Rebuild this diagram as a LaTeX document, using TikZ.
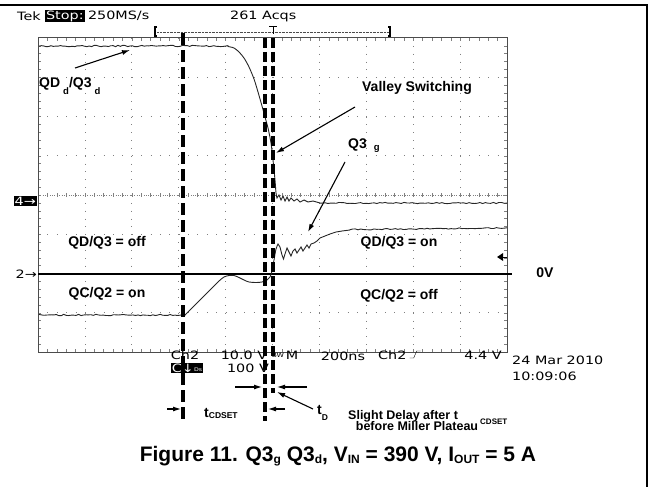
\documentclass[tikz,border=0pt]{standalone}
\usepackage{fontspec}
\setmainfont{Liberation Sans}
\newfontfamily\tekfont[FakeStretch=1.25]{DejaVu Sans}
\usetikzlibrary{arrows.meta,positioning}

\newcommand{\lowsub}[3]{\raisebox{#1}{\fontsize{#2}{#2}\selectfont #3}}

\begin{document}
\begin{tikzpicture}[x=1pt, y=-1pt, font=\bfseries\fontsize{14}{16}\selectfont,
    lbl/.style = {inner sep=0pt},
    small/.style = {inner sep=0pt, font=\bfseries\fontsize{12.5}{14}\selectfont},
    tek/.style = {inner sep=0pt, font=\tekfont\fontsize{11.5}{12}\selectfont},
    inv/.style = {tek, fill=black, text=white, inner sep=1pt},
    trace/.style = {line width=0.9pt, black!85},
    gridv/.style = {gray, line width=0.8pt, dash pattern=on 0.8pt off 7.05pt},
    gridh/.style = {gray, line width=0.8pt, dash pattern=on 0.8pt off 8.58pt},
    cursor/.style = {line width=4pt, dash pattern=on 12pt off 5pt},
    cursorn/.style = {line width=3.5pt, dash pattern=on 10pt off 4pt},
    arr/.style = {-{Latex[length=8pt,width=5pt]}, line width=1.1pt}]
    \useasboundingbox (0,0) rectangle (653,487);
    \pgfmathsetseed{7}
    % outer frame
    \draw[line width=1.5pt] (0,5) -- (647,5) -- (647,487);
    % graticule
    \foreach \i in {1,...,9} \draw[gridv] (38+\i*46.9,38) -- (38+\i*46.9,352);
    \foreach \j in {1,...,7} \draw[gridh] (38,38+\j*39.25) -- (507,38+\j*39.25);
    \draw[gray, line width=0.8pt, dash pattern=on 0.8pt off 1.55pt] (38,195) -- (507,195);
    \foreach \k in {1,...,49} {
        \draw[gray] (38+\k*9.38,38) -- ++(0,3);
        \draw[gray] (38+\k*9.38,352) -- ++(0,-3);
        \draw[gray] (38+\k*9.38,193) -- ++(0,4);
    }
    \foreach \k in {1,...,39} {
        \draw[gray] (38,38+\k*7.85) -- ++(3,0);
        \draw[gray] (507,38+\k*7.85) -- ++(-3,0);
    }
    \draw[gray!60!black, line width=1pt] (38,38) rectangle (507,352);
    % zero line and markers
    \draw[line width=1.5pt] (38,274) -- (512,274);
    \node[inv, anchor=east] (ch4) at (37,201) {4→};
    \node[tek, anchor=east] (ch2m) at (37,274) {2→};
    \fill (497,257) -- (503,253) -- (503,261) -- cycle;
    \draw (503,257) -- (507,257);
    % trigger bracket
    \draw[densely dotted, gray!60!black] (157,32) -- (390,32);
    \draw[line width=1.2pt] (157,27) -- (155,27) -- (155,36) -- (157,36);
    \draw[line width=1.2pt] (388,27) -- (390,27) -- (390,36) -- (388,36);
    \draw[line width=1pt] (269,27) -- (277,27) (273,27) -- (273,34);
    % drain trace
    \draw[trace] plot[domain=39:228, samples=80] (\x,{46+0.7*rand})
        -- plot[smooth] coordinates {(228,46.5) (234,48) (239,52) (244,58) (249,67) (254,79) (258,92) (262,106) (265,117) (268,128) (271,143) (273,160) (275,180) (276,193) (277,198)}
        -- (279,195) -- (281,200) -- (283,196) -- (285,201) -- (287,197) -- (289,201) -- (291,198) -- (294,201) -- (297,199) -- (300,202) -- (304,200) -- (308,202) -- (313,201) -- (320,203)
        -- plot[domain=320:507, samples=70] (\x,{203+0.6*rand});
    % gate trace
    \draw[trace] plot[domain=39:185, samples=60] (\x,{315+0.7*rand})
        -- plot[smooth] coordinates {(185,315) (189,311) (194,306) (199,301) (204,296) (209,291) (214,286) (219,281) (224,277) (229,275.5) (234,275.5) (239,277.5) (244,280) (249,282) (256,282.5) (262,282) (267,280) (270,277) (272,271) (274,260) (276,249) (278,244)}
        -- (280,247) -- (282,255) -- (283.5,259) -- (285,254) -- (287,248) -- (289,252) -- (291,256) -- (293,251) -- (295,249) -- (297,253) -- (299,250) -- (301,247) -- (303,251) -- (305,248) -- (307,245) -- (309,248) -- (311,244) -- (314,243) -- (317,241) -- (320,238) -- (325,236) -- (330,234) -- (336,232) -- (342,231) -- (350,230)
        -- plot[domain=350:507, samples=60] (\x,{229.5-1.5*(\x-350)/157+0.6*rand});
    % scope readouts
    \node[tek, anchor=west] (tek) at (17,16) {Tek};
    \node[inv, right=4pt of tek] (stop) {Stop:};
    \node[tek, right=3pt of stop] (rate) {250MS/s};
    \node[tek, anchor=west] (acqs) at (230,16) {261 Acqs};
    \node[tek] (ch2) at (185,355) {Ch2};
    \node[tek] (volt) at (244,355) {10.0 V};
    \node[tek, font=\tekfont\fontsize{6}{6}\selectfont] (bw) at (278,355) {BW};
    \node[tek] (mode) at (292,355) {M};
    \node[tek] (tdiv) at (343,356) {200ns};
    \node[tek, anchor=west] (trig) at (378,355) {Ch2};
    \draw (trig.east) ++(3,3) -- ++(4,0) -- ++(3,-7) -- ++(4,0);
    \node[tek] (level) at (483,355) {4.4 V};
    \node[inv] (c1) at (187,368) {C↓\lowsub{1pt}{5}{Ds}};
    \node[tek] (volt1) at (248,368) {100 V};
    \node[tek, anchor=west] (date) at (512,360) {24 Mar 2010};
    \node[tek, anchor=west] (time) at (512,376) {10:09:06};
    % labels
    \node[lbl, anchor=base west] (qdd) at (39,88) {QD\hspace{3pt}\lowsub{-7pt}{9.5}{d}/Q3\hspace{3pt}\lowsub{-7pt}{9.5}{d}};
    \node[lbl] (valley) at (417,88) {Valley Switching};
    \node[lbl, anchor=base west] (q3g) at (348,148) {Q3\hspace{7pt}\lowsub{-2pt}{9.5}{g}};
    \node[lbl] (offD) at (107,243) {QD/Q3 = off};
    \node[lbl] (onC) at (107,294) {QC/Q2 = on};
    \node[lbl] (onD) at (399,243) {QD/Q3 = on};
    \node[lbl] (offC) at (399,296) {QC/Q2 = off};
    \node[lbl] (zero) at (545,273) {0V};
    \node[lbl, anchor=base west] (tcd) at (204,417) {t\lowsub{-1pt}{8.5}{CDSET}};
    \node[lbl, anchor=base west] (td) at (317,414) {t\lowsub{-6pt}{8.5}{D}};
    \node[small, anchor=base west] (slight) at (348,419) {Slight Delay after t};
    \node[small, anchor=base west, font=\bfseries\fontsize{8}{8}\selectfont] (cdsub) at (480,424) {CDSET};
    \node[small] (miller) at (417,426) {before Miller Plateau};
    \node[lbl, font=\bfseries\fontsize{21}{24}\selectfont] (cap) at (338,456)
        {Figure 11. Q3\lowsub{-2pt}{12}{g} Q3\lowsub{-2pt}{12}{d}, V\lowsub{-2pt}{12}{IN} = 390 V, I\lowsub{-2pt}{12}{OUT} = 5 A};
    % cursors
    \draw[cursor] (183,33) -- (183,420);
    \draw[cursorn] (265,38) -- (265,421);
    \draw[cursorn] (273,38) -- (273,393);
    % arrows
    \coordinate (qdtail) at (75,68);
    \coordinate (qdtip) at (130,50);
    \coordinate (vstail) at (355,107);
    \coordinate (vstip) at (276,153);
    \coordinate (gtail) at (345,162);
    \coordinate (gtip) at (308,232);
    \coordinate (cdl) at (167,409);
    \coordinate (cdlt) at (181,409);
    \coordinate (cdr) at (285,409);
    \coordinate (cdrt) at (268,409);
    \coordinate (tdl) at (235,387);
    \coordinate (tdlt) at (262,387);
    \coordinate (tdr) at (307,387);
    \coordinate (tdrt) at (277,387);
    \coordinate (tdtail) at (313,409);
    \coordinate (tdtip) at (277,392);
    \draw[arr] (qdtail) -- (qdtip);
    \draw[arr] (vstail) -- (vstip);
    \draw[arr] (gtail) -- (gtip);
    \draw[arr] (cdl) -- (cdlt);
    \draw[arr] (cdr) -- (cdrt);
    \draw[arr] (tdl) -- (tdlt);
    \draw[arr] (tdr) -- (tdrt);
    \draw[arr] (tdtail) -- (tdtip);
\end{tikzpicture}
\end{document}
